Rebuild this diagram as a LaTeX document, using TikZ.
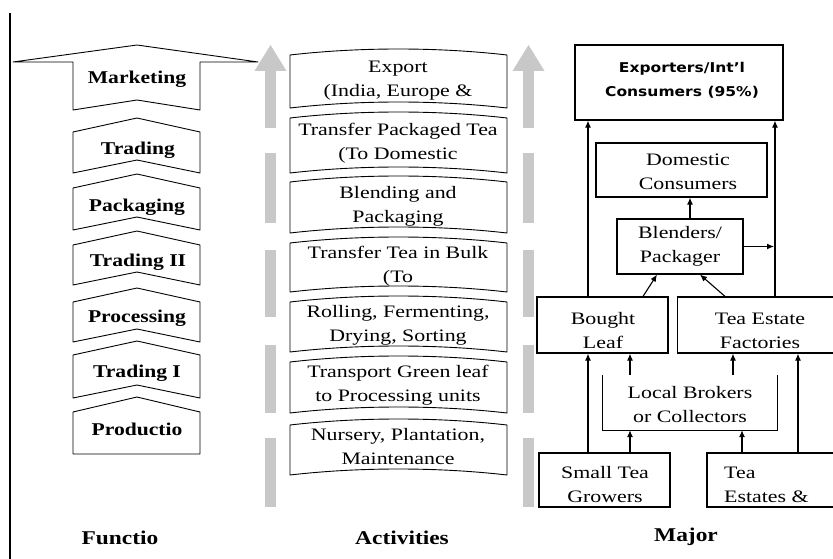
\documentclass[tikz,border=0pt]{standalone}
\usepackage{fontspec}
\setmainfont[FakeStretch=1.25]{Liberation Serif}
\newfontfamily\lfont[FakeStretch=1.2]{Liberation Serif}
\newfontfamily\mfont[FakeStretch=1.25]{Liberation Serif}
\newfontfamily\xfont[FakeStretch=1.15]{DejaVu Sans}
\usetikzlibrary{arrows.meta}
\definecolor{arrgray}{RGB}{200,200,200}
\tikzset{
  shp/.style={draw=black, line width=0.9pt, line join=round},
  flab/.style={font=\lfont\bfseries\fontsize{18}{20}\selectfont, inner sep=0pt},
  mlab/.style={font=\mfont\fontsize{17.5}{24}\selectfont, align=center, inner sep=0pt},
  rlab/.style={font=\mfont\fontsize{17.5}{24}\selectfont, align=center, inner sep=0pt},
  xlab/.style={font=\xfont\bfseries\fontsize{13.5}{24}\selectfont, align=center, inner sep=0pt},
  blab/.style={font=\lfont\bfseries\fontsize{19.5}{22}\selectfont, inner sep=0pt},
  rbox/.style={draw=black, line width=1.2pt, rectangle, inner sep=0pt},
  arr/.style={line width=1.1pt, -{Latex[length=7pt,width=6pt]}},
}
\begin{document}
\begin{tikzpicture}[x=1pt,y=-1pt]
\useasboundingbox (0,0) rectangle (833,559);
\fill[white] (0,0) rectangle (833,559);

% left border line
\draw[line width=1.3pt] (10,13) -- (10,559);

% ---- Functions column (chevrons) ----
\draw[shp] (13,62) -- (137,45) -- (258,62) -- (200,62) -- (200,110) -- (137,100) -- (73,110) -- (73,62) -- cycle;
\foreach \yt/\yb in {132/173, 188/230, 245/285, 302/342, 355/398}{
  \draw[shp] (73,\yt) -- (137,\yt-14) -- (200,\yt) -- (200,\yb) -- (137,\yb-13) -- (73,\yb) -- cycle;
}
\draw[shp] (73,412) -- (137,397) -- (200,412) -- (200,454) -- (73,454) -- cycle;

\node[flab] (fmkt) at (137,79) {Marketing};
\node[flab] (ftr2) at (138,150) {Trading};
\node[flab] (fpkg) at (137,207) {Packaging};
\node[flab] (ftrii) at (138,262) {Trading II};
\node[flab] (fproc) at (137,318) {Processing};
\node[flab] (ftri) at (137,373) {Trading I};
\node[flab] (fprod) at (137,429) {Productio};

% ---- gray dashed arrows ----
\foreach \cx in {270.5, 528.5}{
  \fill[arrgray] (\cx-16,71) -- (\cx,45) -- (\cx+16,71) -- cycle;
  \foreach \sa/\sb in {70/128, 153/223, 250/317, 345/413, 438/507}{
    \fill[arrgray] (\cx-5.5,\sa) rectangle (\cx+5.5,\sb);
  }
}

% ---- Activities column ----
\foreach \yt/\yb in {55/108, 118/173, 182/233, 243/292, 302/352, 362/413, 425/475}{
  \draw[shp] (290,\yt) .. controls (360,\yt-8) and (437,\yt-8) .. (507,\yt)
     -- (507,\yb) .. controls (437,\yb-8) and (360,\yb-8) .. (290,\yb) -- cycle;
}
\node[mlab] (a1) at (398,81) {Export\\(India, Europe \&};
\node[mlab] (a2) at (398,143) {Transfer Packaged Tea\\(To Domestic};
\node[mlab] (a3) at (398,206) {Blending and\\Packaging};
\node[mlab] (a4) at (398,266) {Transfer Tea in Bulk\\(To};
\node[mlab] (a5) at (398,325) {Rolling, Fermenting,\\Drying, Sorting};
\node[mlab] (a6) at (398,385) {Transport Green leaf\\to Processing units};
\node[mlab] (a7) at (398,447) {Nursery, Plantation,\\Maintenance};

% ---- Major actors column ----
\node[rbox, minimum width=208pt, minimum height=75pt] (exp) at (679,82.5) {};
\node[rbox, minimum width=171pt, minimum height=54pt] (dom) at (681.5,170) {};
\node[rbox, minimum width=126pt, minimum height=55pt] (blend) at (680,246.5) {};
\node[rbox, minimum width=131pt, minimum height=56pt] (bought) at (602.5,325) {};
\node[rbox, minimum width=157pt, minimum height=56pt] (tef) at (756,325) {};
\node[minimum width=174pt, minimum height=55pt, inner sep=0pt] (brok) at (690,402.5) {};
\node[rbox, minimum width=131pt, minimum height=54pt] (stg) at (604.5,480) {};
\node[rbox, minimum width=128pt, minimum height=54pt] (tes) at (771,480) {};

\node[xlab] (expt) at (682,80) {Exporters/Int’l\\Consumers (95\%)};
\node[rlab] (domt) at (688,172) {Domestic\\Consumers};
\node[rlab] (blendt) at (680,246) {Blenders/\\Packager};
\node[rlab] (boughtt) at (603,331) {Bought\\Leaf};
\node[rlab] (teft) at (760,331) {Tea Estate\\Factories};
\node[rlab] (brokt) at (690,405) {Local Brokers\\or Collectors};
\node[rlab] (stgt) at (605,485) {Small Tea\\Growers};
\node[rlab, align=left, anchor=west] (test) at (724,485) {Tea\\Estates \&};

\draw[line width=1.2pt] (brok.north west) -- (brok.south west) -- (brok.south east) -- (brok.north east);

\coordinate (xa) at (588,0);
\coordinate (xb) at (775,0);
\coordinate (xc) at (690,0);
\coordinate (xd) at (643,0);
\coordinate (xe) at (657,0);
\coordinate (xf) at (725,0);
\coordinate (xg) at (700,0);
\coordinate (xh) at (630,0);
\coordinate (xi) at (733,0);
\coordinate (xj) at (742,0);
\coordinate (xk) at (798,0);

\draw[arr] (bought.north -| xa) -- (exp.south -| xa);
\draw[arr] (tef.north -| xb) -- (exp.south -| xb);
\draw[arr] (blend.north -| xc) -- (dom.south -| xc);
\draw[arr] (blend.east) -- ([xshift=-1pt]blend.east -| xb);
\draw[arr] (bought.north -| xd) -- (blend.south -| xe);
\draw[arr] (tef.north -| xf) -- (blend.south -| xg);
\draw[arr] (stg.north -| xa) -- (bought.south -| xa);
\draw[arr] (brok.north -| xh) -- (bought.south -| xh);
\draw[arr] (stg.north -| xh) -- (brok.south -| xh);
\draw[arr] (brok.north -| xi) -- (tef.south -| xi);
\draw[arr] (tes.north -| xj) -- (brok.south -| xj);
\draw[arr] (tes.north -| xk) -- (tef.south -| xk);

% ---- column titles ----
\node[blab] (t1) at (120,538) {Functio};
\node[blab] (t2) at (402,538) {Activities};
\node[blab] (t3) at (686,537) {Major};
\end{tikzpicture}
\end{document}
